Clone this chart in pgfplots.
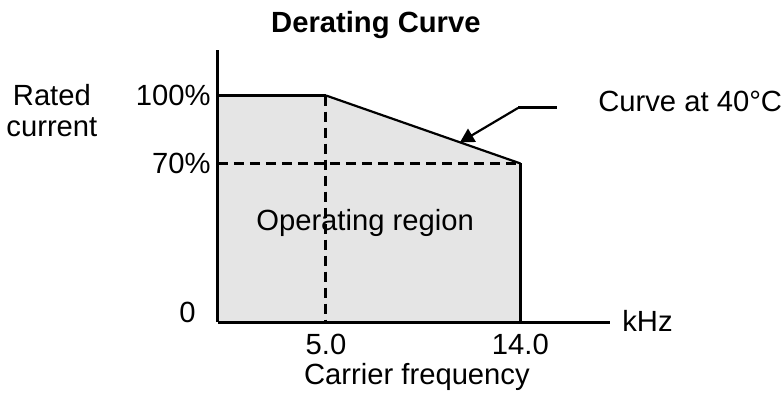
\documentclass[border=0pt]{standalone}
\usepackage{pgfplots}
\pgfplotsset{compat=1.18}
\usetikzlibrary{arrows.meta}
\usepackage{fontspec}
\setmainfont{Liberation Sans}
\definecolor{regiongray}{HTML}{E5E5E5}
\begin{document}
\fontsize{14.6pt}{17.5pt}\selectfont
\begin{tikzpicture}
\begin{axis}[
 scale only axis, x=10.8pt, y=1.1325pt,
 xmin=0, xmax=18.15, ymin=0, ymax=120,
 axis x line=bottom, axis y line=left,
 axis line style={-, line width=1.5pt},
 axis on top,
 major tick length=0pt,
 xtick={5,14}, xticklabels={5.0,14.0},
 ytick={70,100}, yticklabels={70\%,100\%},
 extra y ticks={0}, extra y tick labels={0},
 extra y tick style={yticklabel style={anchor=base east, xshift=-7.5pt, inner sep=0pt}},
 xticklabel style={anchor=base, inner sep=0pt, yshift=-16pt},
 yticklabel style={anchor=east, inner sep=0pt, xshift=-3.5pt},
 /pgf/number format/assume math mode=true,
 clip=false,
]
\addplot[fill=regiongray, draw=none] coordinates {(0,100) (5,100) (14,70)} \closedcycle;
\addplot[line width=1.5pt, dash pattern=on 5pt off 3pt] coordinates {(5,100) (5,0)};
\addplot[line width=1.5pt, dash pattern=on 5pt off 3pt] coordinates {(0,70) (14,70)};
\addplot[line width=1.5pt] coordinates {(0,100) (5,100)};
\addplot[line width=1.1pt] coordinates {(5,100) (14,70)};
\addplot[line width=1.6pt] coordinates {(14,70) (14,0)};
\draw[line width=1.5pt] (axis cs:15.69,94.5) -- (axis cs:13.89,94.5);
\draw[line width=1.1pt, -{Triangle[length=7pt,width=7.5pt]}] (axis cs:13.89,94.5) -- (axis cs:11.2,79.3);
\node[font=\bfseries, anchor=base] at (axis cs:7.31,127.6) {Derating Curve};
\node[anchor=base] at (axis cs:-7.69,95.5) {Rated};
\node[anchor=base] at (axis cs:-7.69,81.8) {current};
\node[anchor=base] at (axis cs:6.81,40.6) {Operating region};
\node[anchor=base] at (axis cs:9.21,-27.8) {Carrier frequency};
\node[anchor=base west, inner sep=0pt] at (axis cs:18.7,-4.3) {kHz};
\node[anchor=base west, inner sep=0pt] at (axis cs:17.59,92.9) {Curve at 40°C};
\coordinate (O) at (axis cs:0,0);
\end{axis}
\pgfresetboundingbox
\path[use as bounding box] ([shift={(-109pt,-40.5pt)}]O) rectangle ([shift={(282pt,161pt)}]O);
\end{tikzpicture}
\end{document}
